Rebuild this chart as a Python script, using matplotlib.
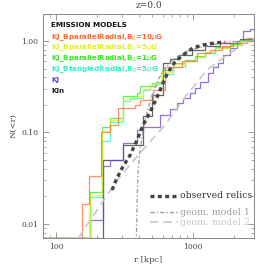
import matplotlib
matplotlib.use("Agg")
import matplotlib.pyplot as plt
import numpy as np

# step curves: bin edges in r [kpc] and N(<r) in each bin
bottom = 0.00703

r_orange = [80, 155, 174, 213, 248, 284, 377, 410, 511, 625, 831, 1070, 1331, 1628, 1959, 2479, 2800]
n_orange = [bottom, 0.0166, 0.0335, 0.100, 0.121, 0.185, 0.20, 0.227, 0.29, 0.52, 0.60, 0.74, 0.80, 0.87, 0.95, 1.07]

r_yellow = [80, 177, 217, 248, 308, 390, 431, 486, 546, 594, 714, 874, 1034, 1224, 1448, 1863, 2203, 2800]
n_yellow = [bottom, 0.0207, 0.105, 0.137, 0.23, 0.25, 0.30, 0.33, 0.35, 0.46, 0.56, 0.61, 0.67, 0.75, 0.84, 0.91, 1.01]

r_green = [80, 177, 217, 248, 308, 390, 410, 502, 546, 594, 714, 874, 1034, 1224, 1448, 1863, 2203, 2800]
n_green = [bottom, 0.0225, 0.115, 0.145, 0.252, 0.27, 0.32, 0.345, 0.36, 0.48, 0.575, 0.62, 0.68, 0.76, 0.85, 0.92, 1.02]

r_cyan = [80, 177, 217, 248, 308, 347, 431, 486, 546, 594, 714, 874, 1034, 1224, 1448, 1863, 2203, 2800]
n_cyan = [bottom, 0.0198, 0.08, 0.13, 0.22, 0.24, 0.29, 0.32, 0.34, 0.44, 0.52, 0.60, 0.66, 0.74, 0.84, 0.91, 1.01]

r_kj = [80, 177, 220, 248, 308, 390, 431, 574, 679, 764, 845, 951, 1034, 1125, 1287, 1400, 1522, 1656, 1863, 2096, 2317, 2607, 2800]
n_kj = [bottom, 0.011, 0.043, 0.05, 0.077, 0.107, 0.115, 0.155, 0.18, 0.21, 0.24, 0.27, 0.31, 0.36, 0.45, 0.52, 0.58, 0.70, 0.83, 1.0, 1.3, 1.35]

r_kin = [80, 220, 308, 431, 502, 604, 679, 777, 983, 1224, 1574, 2203, 2800]
n_kin = [bottom, 0.05, 0.073, 0.15, 0.257, 0.575, 0.63, 0.70, 0.80, 0.88, 0.95, 1.05]

# observed relics and geometric models
r_obs = [256, 274, 303, 347, 390, 432, 486, 546, 604, 657, 739, 845, 1000, 1183, 1448, 1712]
n_obs = [0.0235, 0.0303, 0.0409, 0.0567, 0.0828, 0.121, 0.168, 0.244, 0.347, 0.458, 0.590, 0.703, 0.839, 0.904, 0.951, 0.975]

r_geo1 = [384, 390, 397, 410, 432, 462, 502, 555, 625, 739, 951, 1331, 1863, 2787]
n_geo1 = [0.005, 0.0183, 0.0389, 0.0645, 0.1065, 0.168, 0.257, 0.375, 0.507, 0.652, 0.797, 0.904, 0.975, 1.025]

r_geo2 = [145, 210, 279, 410, 625, 874, 1265, 1771, 2479, 2787]
n_geo2 = [0.00703, 0.0161, 0.0303, 0.0597, 0.121, 0.244, 0.482, 0.703, 0.975, 1.05]

models = [
    ("KJ_BparallelRadial,B$_0$=10$\\mu$G", "#ff6a30", r_orange, n_orange),
    ("KJ_BparallelRadial,B$_0$=5$\\mu$G", "#e2ee2a", r_yellow, n_yellow),
    ("KJ_BparallelRadial,B$_0$=1$\\mu$G", "#33e822", r_green, n_green),
    ("KJ_BtangledRadial,B$_0$=5$\\mu$G", "#30f0c8", r_cyan, n_cyan),
    ("KJ", "#7040cc", r_kj, n_kj),
    ("Kin", "#222222", r_kin, n_kin),
]

serif = "DejaVu Serif"

fig = plt.figure(figsize=(2.66, 2.66), dpi=100)
ax = fig.add_axes([43 / 266, 28 / 266, 211 / 266, 224 / 266])

ax.plot(r_geo2, n_geo2, color="#c8c8c8", lw=1.2, ls=(0, (5, 3)))
ax.plot(r_geo1, n_geo1, color="#a0a0a0", lw=1.0, ls=(0, (3, 1.5, 1, 1.5)))
for label, col, r, n in models[::-1]:
    alpha = 0.75 if col != "#222222" else 0.7
    ax.stairs(n, r, color=col, lw=0.9, alpha=alpha, baseline=None)
ax.plot(r_obs, n_obs, color="#444444", lw=2.4, ls=(0, (1.2, 1.0)))

ax.set_xscale("log")
ax.set_yscale("log")
ax.set_xlim(80, 2790)
ax.set_ylim(0.00703, 1.97)

ax.set_xticks([100, 1000])
ax.set_xticklabels(["100", "1000"])
ax.set_yticks([0.01, 0.1, 1.0])
ax.set_yticklabels(["0.01", "0.10", "1.00"])
ax.tick_params(which="both", direction="in", top=True, right=True,
               colors="#888888", labelcolor="#444444", labelsize=5.5)
ax.tick_params(which="major", length=4, width=0.6)
ax.tick_params(which="minor", length=2, width=0.5)
for lab in ax.get_xticklabels() + ax.get_yticklabels():
    lab.set_family(serif)
for sp in ax.spines.values():
    sp.set_color("#888888")
    sp.set_linewidth(0.7)

ax.set_title("z=0.0", fontsize=6.5, family=serif, color="#444444", pad=4)
ax.set_xlabel("r [kpc]", fontsize=6, family=serif, color="#444444", labelpad=4)
ax.set_ylabel("N(<r)", fontsize=6, family=serif, color="#444444", labelpad=3)

# legend of emission models
ax.text(0.04, 0.951, "EMISSION MODELS", transform=ax.transAxes, fontsize=5.2,
        fontweight="bold", color="#111111", va="center", ha="left")
ys = [0.897, 0.848, 0.799, 0.750, 0.705, 0.656]
for (label, col, r, n), y in zip(models, ys):
    ax.text(0.04, y, label, transform=ax.transAxes, fontsize=5.1,
            fontweight="bold", color=col, va="center", ha="left")

# legend of observed / geometric
ax.plot([0.505, 0.64], [0.1875, 0.1875], transform=ax.transAxes,
        color="#444444", lw=2.4, ls=(0, (1.2, 1.0)))
ax.plot([0.505, 0.64], [0.116, 0.116], transform=ax.transAxes,
        color="#a0a0a0", lw=1.0, ls=(0, (3, 1.5, 1, 1.5)))
ax.plot([0.505, 0.64], [0.071, 0.071], transform=ax.transAxes,
        color="#c8c8c8", lw=1.2, ls=(0, (5, 3)))
ax.text(0.65, 0.1875, "observed relics", transform=ax.transAxes, fontsize=6.7,
        family=serif, color="#333333", va="center")
ax.text(0.65, 0.116, "geom. model 1", transform=ax.transAxes, fontsize=6.7,
        family=serif, color="#a0a0a0", va="center")
ax.text(0.65, 0.071, "geom. model 2", transform=ax.transAxes, fontsize=6.7,
        family=serif, color="#c8c8c8", va="center")

fig.savefig("out.png", dpi=100)
